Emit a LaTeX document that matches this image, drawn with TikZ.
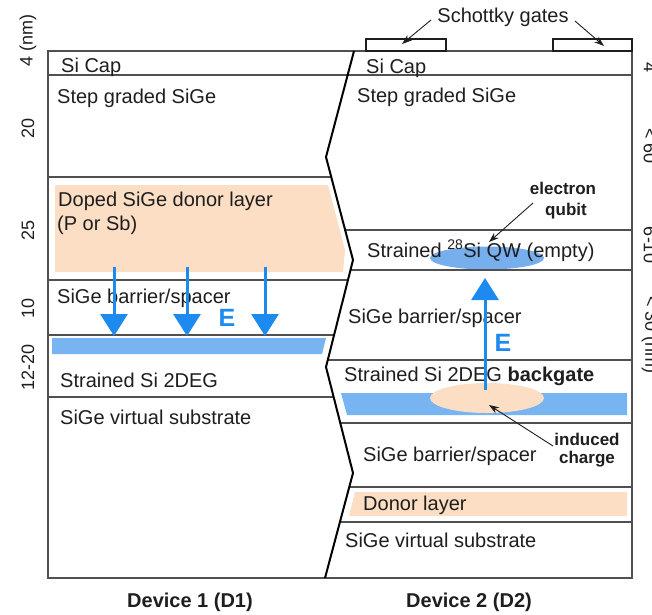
\documentclass[tikz,border=0pt]{standalone}
\usepackage{fontspec}
\setmainfont{Liberation Sans}
\usetikzlibrary{arrows.meta}
\definecolor{peach}{RGB}{251,222,196}
\definecolor{bandblue}{RGB}{120,180,242}
\definecolor{qwblue}{RGB}{118,174,238}
\definecolor{arrowblue}{RGB}{28,138,238}
\definecolor{linegray}{RGB}{80,80,80}
\definecolor{txt}{RGB}{30,30,30}
\begin{document}
\begin{tikzpicture}[x=1pt,y=-1pt,
  layerline/.style={draw=linegray,line width=1.3pt},
  zig/.style={draw=black,line width=2pt,line join=miter},
  lbl/.style={anchor=base west,inner sep=0pt,font=\fontsize{20}{24}\selectfont,text=txt},
  sbold/.style={anchor=base,inner sep=0pt,font=\fontsize{17}{20}\selectfont\bfseries,text=txt},
  devlbl/.style={anchor=base,inner sep=0pt,font=\fontsize{20}{24}\selectfont\bfseries,text=txt},
  axl/.style={inner sep=0pt,font=\fontsize{18}{22}\selectfont,text=txt},
  efield/.style={draw=arrowblue,line width=3pt,-{Triangle[length=22pt,width=27pt]}},
  elbl/.style={inner sep=0pt,font=\fontsize{25}{28}\selectfont\bfseries,text=arrowblue},
  pointer/.style={draw=txt,line width=0.9pt,-{Stealth[length=10pt,width=7pt]}},
  gatebox/.style={draw=txt,line width=1.1pt}]
\useasboundingbox (0,0) rectangle (652,614);
% zigzag vertices
\coordinate (z0) at (354,51);
\coordinate (z1) at (326,157);
\coordinate (z2) at (353,260);
\coordinate (z3) at (326,367);
\coordinate (z4) at (353,473);
\coordinate (z5) at (325,578);
% fills
\fill[peach] (55,185) -- (328,185) -- (345,250) -- (343,272) -- (55,272) -- cycle;
\fill[bandblue] (52,338) -- (326,338) -- (322,354) -- (52,354) -- cycle;
\fill[bandblue] (341,393) -- (627,393) -- (627,415) -- (347,415) -- cycle;
\fill[peach] (355,492) -- (627,492) -- (627,516) -- (349,516) -- cycle;
\fill[qwblue] (487,258) ellipse [x radius=57, y radius=11.5];
\fill[peach] (487,398) ellipse [x radius=57, y radius=15];
% left layer lines
\begin{scope}
\clip (0,51) -- (z0) -- (z1) -- (z2) -- (z3) -- (z4) -- (z5) -- (0,578) -- cycle;
\foreach \yy in {177,280,335,397} \draw[layerline] (48,\yy) -- (400,\yy);
\end{scope}
% right layer lines
\begin{scope}
\clip (652,51) -- (z0) -- (z1) -- (z2) -- (z3) -- (z4) -- (z5) -- (652,578) -- cycle;
\foreach \yy in {230,270,360,423,487,522} \draw[layerline] (300,\yy) -- (632,\yy);
\end{scope}
% outer box
\draw[layerline] (48,75) -- (632,75);
\draw[layerline] (48,51) rectangle (632,578);
% zigzag
\draw[zig] (z0) -- (z1) -- (z2) -- (z3) -- (z4) -- (z5);
% gates
\draw[gatebox] (366,51) rectangle (446,39);
\draw[gatebox] (553,51) rectangle (632,39);
\node[anchor=base,inner sep=0pt,font=\fontsize{20}{24}\selectfont,text=txt] (sch) at (503,22) {Schottky gates};
\coordinate (s1) at (431,20);
\coordinate (g1) at (402,44);
\coordinate (s2) at (575,21);
\coordinate (g2) at (604,46);
\draw[pointer] (s1) -- (g1);
\draw[pointer] (s2) -- (g2);
% left labels
\node[lbl] (l1) at (61,72) {Si Cap};
\node[lbl] (l2) at (57,103) {Step graded SiGe};
\node[lbl] (l3) at (58,206) {Doped SiGe donor layer};
\node[lbl] (l3b) at (57,230) {(P or Sb)};
\node[lbl] (l4) at (57,303) {SiGe barrier/spacer};
\node[lbl] (l5) at (60,387) {Strained Si 2DEG};
\node[lbl] (l6) at (60,424) {SiGe virtual substrate};
% right labels
\node[lbl] (r1) at (366,73) {Si Cap};
\node[lbl] (r2) at (357,102) {Step graded SiGe};
\node[lbl] (r3) at (367,257) {Strained \textsuperscript{28}Si QW (empty)};
\node[lbl] (r4) at (348,323) {SiGe barrier/spacer};
\node[lbl] (r5) at (344,381) {Strained Si 2DEG \textbf{backgate}};
\node[lbl] (r6) at (363,461) {SiGe barrier/spacer};
\node[lbl] (r7) at (363,510) {Donor layer};
\node[lbl] (r8) at (345,547) {SiGe virtual substrate};
% annotations
\node[sbold] (eq1) at (563,194) {electron};
\node[sbold] (eq2) at (566,215) {qubit};
\node[sbold] (ic1) at (587,445) {induced};
\node[sbold] (ic2) at (587,463) {charge};
\coordinate (eqs) at (533,203);
\coordinate (eqt) at (489,242);
\draw[pointer] (eqs) -- (eqt);
\coordinate (ics) at (553,446);
\coordinate (ict) at (489,405);
\draw[pointer] (ics) -- (ict);
% field arrows
\foreach \xx in {114,187,265} \draw[efield] (\xx,267) -- (\xx,336);
\node[elbl] (e1) at (227,318) {E};
\coordinate (ua) at (485,390);
\coordinate (ub) at (485,278);
\draw[efield] (ua) -- (ub);
\node[elbl] (e2) at (503,343) {E};
% device labels
\node[devlbl] (d1) at (190,607) {Device 1 (D1)};
\node[devlbl] (d2) at (469,607) {Device 2 (D2)};
% left axis
\node[axl,rotate=90] (a1) at (28,40) {4 (nm)};
\node[axl,rotate=90] (a2) at (28,128) {20};
\node[axl,rotate=90] (a3) at (28,230) {25};
\node[axl,rotate=90] (a4) at (28,308) {10};
\node[axl,rotate=90] (a5) at (28,367) {12-20};
% right axis (cut off)
\node[axl,rotate=-90] (b1) at (650,68) {4};
\node[axl,rotate=-90] (b2) at (650,146) {< 60};
\node[axl,rotate=-90] (b3) at (650,245) {6-10};
\node[axl,rotate=-90] (b4) at (650,335) {< 30 (nm)};
\end{tikzpicture}
\end{document}
